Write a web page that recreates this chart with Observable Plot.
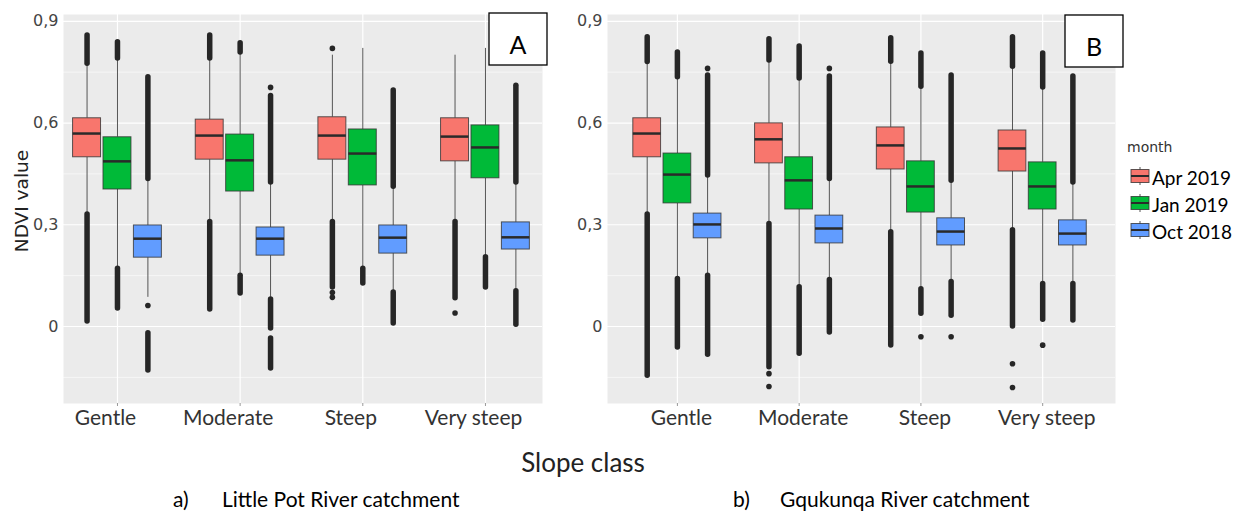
<!DOCTYPE html>
<html>
<head>
<meta charset="utf-8">
<script src="https://cdn.jsdelivr.net/npm/d3@7"></script>
<script src="https://cdn.jsdelivr.net/npm/@observablehq/plot@0.6"></script>
<style>
  html, body { margin: 0; padding: 0; background: #fff; }
  #root { position: relative; width: 1247px; height: 515px; background: #fff; overflow: hidden; }
  #pa, #pb { position: absolute; top: 0; }
  #pa { left: 0; }
  #pb { left: 560px; }
  #overlay { position: absolute; left: 0; top: 0; pointer-events: none; }
</style>
</head>
<body>
<div id="root">
  <div id="pa"></div>
  <div id="pb"></div>
</div>
<script>
// ---------- data ----------
const slopeClasses = ["Gentle", "Moderate", "Steep", "Very steep"];
const months = ["Apr 2019", "Jan 2019", "Oct 2018"];
const monthColors = ["#F8766D", "#00BA38", "#619CFF"];
const yTickValues = [0, 0.3, 0.6, 0.9];
const yMinorValues = [-0.15, 0.15, 0.45, 0.75];
const xTickValues = [0, 1, 2, 3];

// Panel A: Little Pot River catchment. Group order: Gentle(Apr, Jan, Oct), Moderate(...), Steep(...), Very steep(...)
const aLowerWhisker = [0.336, 0.174, 0.086, 0.313, 0.156, 0.086, 0.313, 0.174, 0.106, 0.313, 0.209, 0.109];
const aQ1           = [0.499, 0.404, 0.203, 0.492, 0.398, 0.209, 0.492, 0.416, 0.215, 0.487, 0.437, 0.227];
const aMedian       = [0.569, 0.487, 0.259, 0.563, 0.490, 0.259, 0.563, 0.510, 0.262, 0.560, 0.528, 0.263];
const aQ3           = [0.614, 0.558, 0.298, 0.610, 0.566, 0.292, 0.617, 0.581, 0.298, 0.614, 0.593, 0.307];
const aUpperWhisker = [0.770, 0.785, 0.430, 0.785, 0.805, 0.420, 0.800, 0.820, 0.407, 0.800, 0.820, 0.420];
// dense outlier runs: [group, from, to]
const aOutlierRuns = [
  [0, 0.775, 0.858], [0, 0.330, 0.015],
  [1, 0.790, 0.838], [1, 0.170, 0.053],
  [2, 0.435, 0.735], [2, -0.020, -0.130],
  [3, 0.790, 0.858], [3, 0.308, 0.050],
  [4, 0.808, 0.835], [4, 0.150, 0.097],
  [5, 0.425, 0.680], [5, 0.080, -0.006], [5, -0.035, -0.124],
  [6, 0.308, 0.115],
  [7, 0.170, 0.127],
  [8, 0.412, 0.696], [8, 0.100, 0.009],
  [9, 0.308, 0.083],
  [10, 0.204, 0.115],
  [11, 0.425, 0.710], [11, 0.104, 0.005]
];
// isolated outliers: [group, value]
const aOutlierPoints = [[2, 0.062], [5, 0.705], [6, 0.820], [6, 0.100], [6, 0.086], [9, 0.040]];

// Panel B: Gqukunqa River catchment
const bLowerWhisker = [0.336, 0.145, 0.156, 0.307, 0.121, 0.142, 0.283, 0.115, 0.136, 0.289, 0.130, 0.130];
const bQ1           = [0.499, 0.363, 0.260, 0.481, 0.345, 0.245, 0.463, 0.336, 0.239, 0.457, 0.345, 0.239];
const bMedian       = [0.569, 0.448, 0.301, 0.552, 0.431, 0.289, 0.534, 0.413, 0.280, 0.525, 0.413, 0.274];
const bQ3           = [0.614, 0.510, 0.333, 0.599, 0.499, 0.327, 0.587, 0.487, 0.319, 0.578, 0.484, 0.313];
const bUpperWhisker = [0.776, 0.730, 0.440, 0.779, 0.726, 0.430, 0.776, 0.702, 0.425, 0.761, 0.700, 0.420];
const bOutlierRuns = [
  [0, 0.780, 0.853], [0, 0.330, -0.145],
  [1, 0.735, 0.808], [1, 0.140, -0.062],
  [2, 0.445, 0.740], [2, 0.150, -0.083],
  [3, 0.784, 0.847], [3, 0.302, -0.120],
  [4, 0.731, 0.826], [4, 0.116, -0.080],
  [5, 0.435, 0.737], [5, 0.137, -0.018],
  [6, 0.781, 0.850], [6, 0.278, -0.056],
  [7, 0.707, 0.805], [7, 0.110, 0.038],
  [8, 0.430, 0.740], [8, 0.131, 0.032],
  [9, 0.766, 0.853], [9, 0.284, 0.000],
  [10, 0.705, 0.805], [10, 0.125, 0.020],
  [11, 0.425, 0.737], [11, 0.125, 0.018]
];
const bOutlierPoints = [[2, 0.761], [3, -0.139], [3, -0.177], [5, 0.761], [7, -0.030], [8, -0.030], [9, -0.110], [9, -0.180], [10, -0.055]];

// ---------- drawing ----------
const DODGE = 0.248, HALF = 0.114;
const pos = g => Math.floor(g / 3) + (g % 3 - 1) * DODGE;
const fmt = d => String(d).replace(".", ",");

function makePanel(p) {
  const rows = d3.range(12).map(g => ({
    g, month: months[g % 3],
    lw: p.lw[g], q1: p.q1[g], med: p.med[g], q3: p.q3[g], uw: p.uw[g]
  }));
  const runRows = p.runs.map(([g, a, b]) => ({x: pos(g), a, b}));
  const ptRows = p.pts.map(([g, v]) => ({x: pos(g), v}));
  return Plot.plot({
    width: p.width, height: 440,
    marginLeft: p.marginLeft, marginRight: p.marginRight, marginTop: 14, marginBottom: 37,
    x: {domain: p.xDomain},
    y: {domain: [-0.227, 0.92]},
    color: {domain: months, range: monthColors},
    style: {fontFamily: "Lato", background: "transparent", overflow: "visible"},
    marks: [
      Plot.frame({fill: "#EBEBEB", stroke: "none"}),
      Plot.ruleY(yMinorValues, {stroke: "#fff", strokeWidth: 0.6}),
      Plot.ruleY(yTickValues, {stroke: "#fff", strokeWidth: 1.2}),
      Plot.ruleX(xTickValues, {stroke: "#fff", strokeWidth: 1.2}),
      Plot.ruleX(rows, {x: d => pos(d.g), y1: "lw", y2: "q1", stroke: "#555", strokeWidth: 1}),
      Plot.ruleX(rows, {x: d => pos(d.g), y1: "q3", y2: "uw", stroke: "#555", strokeWidth: 1}),
      Plot.ruleX(runRows, {x: "x", y1: "a", y2: "b", stroke: "#262626", strokeWidth: 5.5, strokeLinecap: "round"}),
      Plot.dot(ptRows, {x: "x", y: "v", r: 2.8, fill: "#262626", stroke: "none"}),
      Plot.rect(rows, {x1: d => pos(d.g) - HALF, x2: d => pos(d.g) + HALF, y1: "q1", y2: "q3",
                       fill: "month", stroke: "#333", strokeOpacity: 0.8, strokeWidth: 1}),
      Plot.ruleY(rows, {x1: d => pos(d.g) - HALF, x2: d => pos(d.g) + HALF, y: "med", stroke: "#2a2a2a", strokeWidth: 2.5}),
      Plot.axisY({ticks: yTickValues, tickFormat: fmt, tickSize: 0, tickPadding: 5,
                  fontSize: 16, fontFamily: "DejaVu Sans", fill: "#444", label: null}),
      Plot.axisX({ticks: xTickValues, tickFormat: () => "", tickSize: 3, stroke: "#999", label: null}),
      Plot.text(xTickValues, {x: d => d, frameAnchor: "bottom", dy: 21, dx: p.labelDx,
                  text: i => slopeClasses[i], fontSize: 21, fontFamily: "Lato", fill: "#333"})
    ]
  });
}

document.getElementById("pa").append(makePanel({
  lw: aLowerWhisker, q1: aQ1, med: aMedian, q3: aQ3, uw: aUpperWhisker,
  runs: aOutlierRuns, pts: aOutlierPoints,
  width: 560, marginLeft: 63, marginRight: 18, xDomain: [-0.44, 3.465], labelDx: -12
}));
document.getElementById("pb").append(makePanel({
  lw: bLowerWhisker, q1: bQ1, med: bMedian, q3: bQ3, uw: bUpperWhisker,
  runs: bOutlierRuns, pts: bOutlierPoints,
  width: 580, marginLeft: 47, marginRight: 25, xDomain: [-0.574, 3.598], labelDx: 4
}));

// ---------- overlay texts, tags and legend ----------
const svg = d3.select("#root").append("svg").attr("id", "overlay")
  .attr("width", 1247).attr("height", 515);

svg.append("text").attr("transform", "translate(21,201) rotate(-90)")
  .attr("text-anchor", "middle").attr("dominant-baseline", "central")
  .style("font-family", "DejaVu Sans").style("font-size", "18.5px").attr("fill", "#222")
  .text("NDVI value");

svg.append("text").attr("x", 583).attr("y", 472).attr("text-anchor", "middle")
  .style("font-family", "Lato").style("font-size", "26px").attr("fill", "#222")
  .text("Slope class");

const captions = [
  {x: 173, t: "a)"}, {x: 222, t: "Little Pot River catchment"},
  {x: 733, t: "b)"}, {x: 780, t: "Gqukunqa River catchment"}
];
svg.selectAll("text.cap").data(captions).join("text").attr("class", "cap")
  .attr("x", d => d.x).attr("y", 507)
  .style("font-family", "Lato").style("font-size", "21px").attr("fill", "#000")
  .text(d => d.t);

const tags = [{x: 489, y: 13, t: "A"}, {x: 1065, y: 15, t: "B"}];
const tg = svg.selectAll("g.tag").data(tags).join("g").attr("class", "tag");
tg.append("rect").attr("x", d => d.x).attr("y", d => d.y).attr("width", 58).attr("height", 52)
  .attr("fill", "#fff").attr("stroke", "#000").attr("stroke-width", 1.3);
tg.append("text").attr("x", d => d.x + 29).attr("y", d => d.y + 31)
  .attr("text-anchor", "middle").attr("dominant-baseline", "central")
  .style("font-family", "Lato").style("font-size", "25px").attr("fill", "#000")
  .text(d => d.t);

svg.append("text").attr("x", 1127).attr("y", 147).attr("dominant-baseline", "central")
  .style("font-family", "DejaVu Sans").style("font-size", "14px").attr("fill", "#333")
  .text("month");
const lg = svg.selectAll("g.key").data(months).join("g").attr("class", "key")
  .attr("transform", (d, i) => `translate(0,${176 + i * 27})`);
lg.append("line").attr("x1", 1140).attr("x2", 1140).attr("y1", -9).attr("y2", 9)
  .attr("stroke", "#555");
lg.append("rect").attr("x", 1131).attr("y", -6.5).attr("width", 18).attr("height", 13)
  .attr("fill", (d, i) => monthColors[i]).attr("stroke", "#333").attr("stroke-opacity", 0.8);
lg.append("line").attr("x1", 1131).attr("x2", 1149).attr("y1", 0).attr("y2", 0)
  .attr("stroke", "#2a2a2a").attr("stroke-width", 2);
lg.append("text").attr("x", 1152).attr("y", 1).attr("dominant-baseline", "central")
  .style("font-family", "Lato").style("font-size", "19px").attr("fill", "#000")
  .text(d => d);
</script>
</body>
</html>
